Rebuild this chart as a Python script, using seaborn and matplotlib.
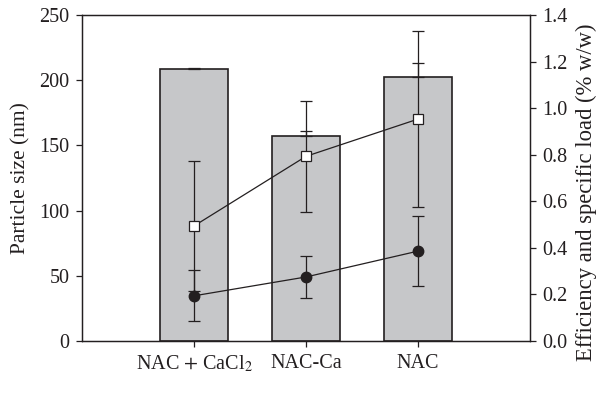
import matplotlib
matplotlib.use("Agg")
import matplotlib.pyplot as plt
import seaborn as sns
import numpy as np
import pandas as pd

categories = ["NAC $+$ CaCl$_2$", "NAC-Ca", "NAC"]
particle_size = [208.5, 157.0, 202.5]
particle_err = [0.8, 4.0, 10.7]
efficiency = [0.494, 0.793, 0.953]
efficiency_err = [0.279, 0.239, 0.379]
specific_load = [0.194, 0.275, 0.386]
specific_load_err = [0.110, 0.089, 0.150]

sns.set_style("ticks")
plt.rcParams['font.family'] = ['Liberation Serif', 'DejaVu Serif']
plt.rcParams['mathtext.fontset'] = 'stix'

dark = "#231f20"
df = pd.DataFrame({"cat": categories, "size": particle_size})

fig = plt.figure(figsize=(6.04, 4.0), dpi=100)
ax = fig.add_axes([82/604, 59/400, 448/604, 326/400])
sns.barplot(data=df, x="cat", y="size", ax=ax, color="#c6c7c9",
            edgecolor=dark, linewidth=1.2, width=0.6, errorbar=None, saturation=1)
pos = np.arange(len(categories))
ax.errorbar(pos, particle_size, yerr=[np.zeros(3), particle_err], fmt="none",
            ecolor=dark, elinewidth=0.9, capsize=4.5, capthick=0.9, zorder=3)
ax.set_xlim(-1, 3)
ax.set_ylim(0, 250)
ax.set_yticks([0, 50, 100, 150, 200, 250])
ax.set_xlabel("")
ax.set_ylabel("Particle size (nm)", fontsize=15.5, color=dark)
ax.yaxis.set_label_coords(-0.115, 0.5)
for s in ["left", "right", "top", "bottom"]:
    ax.spines[s].set_visible(True)
    ax.spines[s].set_color(dark)
    ax.spines[s].set_linewidth(0.9)
ax.tick_params(axis="both", direction="out", length=4, width=0.9, colors=dark,
               labelsize=14.5, labelcolor=dark, pad=5)

ax2 = ax.twinx()
ax2.errorbar(pos, efficiency, yerr=efficiency_err, fmt="-s", color=dark,
             mfc="white", mec=dark, ms=7, mew=0.9, lw=0.9, elinewidth=0.9,
             capsize=4.5, capthick=0.9, zorder=4)
ax2.errorbar(pos, specific_load, yerr=specific_load_err, fmt="-o", color=dark,
             mfc=dark, mec=dark, ms=7.5, lw=0.9, elinewidth=0.9,
             capsize=4.5, capthick=0.9, zorder=4)
ax2.set_ylim(0, 1.4)
ax2.set_yticks(np.arange(0, 1.41, 0.2))
ax2.set_yticklabels([f"{v:.1f}" for v in np.arange(0, 1.41, 0.2)])
ax2.set_ylabel("Efficiency and specific load (% w/w)", fontsize=16.3, color=dark)
ax2.yaxis.set_label_coords(1.103, 0.455)
for s in ["left", "right", "top", "bottom"]:
    ax2.spines[s].set_color(dark)
    ax2.spines[s].set_linewidth(0.9)
ax2.tick_params(axis="y", direction="out", length=4, width=0.9, colors=dark,
                labelsize=14.5, labelcolor=dark, pad=5)

fig.savefig("out.png", dpi=100)
